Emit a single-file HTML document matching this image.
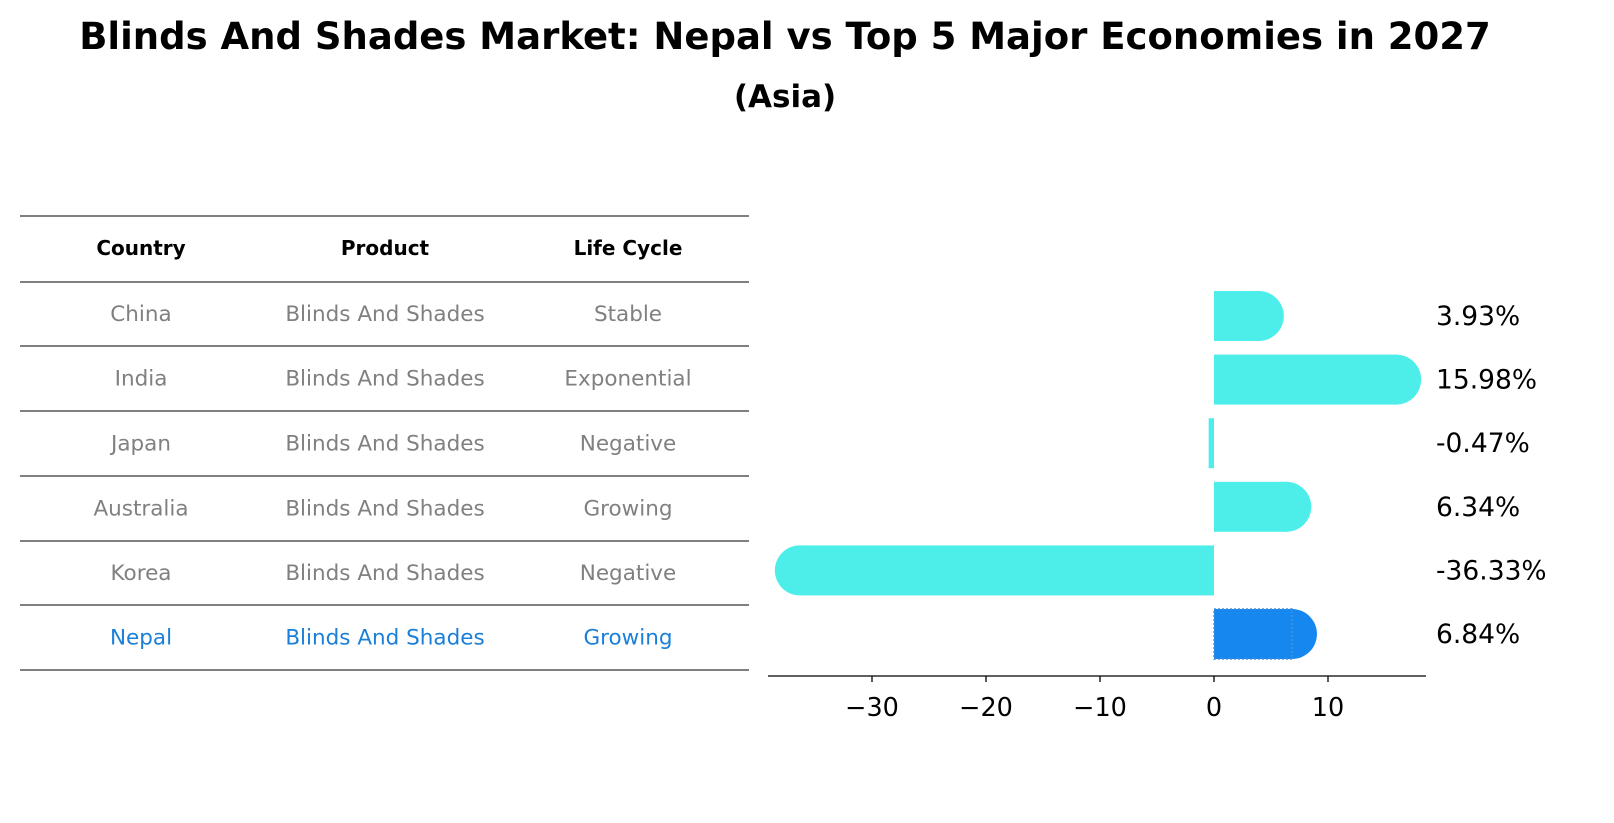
<!DOCTYPE html>
<html><head><meta charset="utf-8">
<style>
body{margin:0;background:#fff;width:1614px;height:823px;overflow:hidden;font-family:"Liberation Sans","DejaVu Sans",sans-serif;}
svg{display:block}
</style></head>
<body>
<svg width="1614" height="823" id="c">
<text x="785" y="49" text-anchor="middle" font-size="37" font-weight="bold" font-family="DejaVu Sans, sans-serif">Blinds And Shades Market: Nepal vs Top 5 Major Economies in 2027</text>
<text x="785" y="107" text-anchor="middle" font-size="31" font-weight="bold" font-family="DejaVu Sans, sans-serif">(Asia)</text>
<g id="tbl"></g>
<g id="bars"></g>
</svg>
<script>
const countries=["China","India","Japan","Australia","Korea","Nepal"];
const products=["Blinds And Shades","Blinds And Shades","Blinds And Shades","Blinds And Shades","Blinds And Shades","Blinds And Shades"];
const lifecycles=["Stable","Exponential","Negative","Growing","Negative","Growing"];
const values=[3.93,15.98,-0.47,6.34,-36.33,6.84];
const ticks=[-30,-20,-10,0,10];
const NS="http://www.w3.org/2000/svg";
function mk(tag,attrs,parent){const e=document.createElementNS(NS,tag);for(const k in attrs)e.setAttribute(k,attrs[k]);parent.appendChild(e);return e;}
const tbl=document.getElementById('tbl');
const lineYs=[216,282,346,411,476,541,605,670];
lineYs.forEach(y=>{const l=mk('line',{x1:20,x2:749,y1:y,y2:y,stroke:'#000','stroke-width':1},tbl);

});
const colX=[141,385,628];
const hdr=["Country","Product","Life Cycle"];
hdr.forEach((h,i)=>{const t=mk('text',{x:colX[i],y:255,'text-anchor':'middle','font-size':20,'font-weight':'bold','font-family':'DejaVu Sans, sans-serif'},tbl);t.textContent=h;

});
countries.forEach((c,r)=>{const y=(lineYs[r+1]+lineYs[r+2])/2+7;const col=c==="Nepal"?"#1a7fd8":"#808080";
[c,products[r],lifecycles[r]].forEach((v,i)=>{const t=mk('text',{x:colX[i],y:y,'text-anchor':'middle','font-size':21.5,fill:col,'font-family':'DejaVu Sans, sans-serif'},tbl);t.textContent=v;

});});
const g=document.getElementById('bars');
const x0=1214,ppu=11.4;
const xs=v=>x0+v*ppu;
const rowY=i=>316+i*63.6;
const h=50,r=25;
values.forEach((v,i)=>{
 const col=countries[i]==="Nepal"?"#1787f0":"#4deeea";
 const yc=rowY(i);const xe=xs(v);
 const left=Math.min(x0,xe),w=Math.abs(xe-x0);
 const rect=mk('rect',{x:left,y:yc-h/2,width:Math.max(w,1),height:h,fill:col},g);
 
 
 if(Math.abs(v)>1){const cap=mk('circle',{cx:xe,cy:yc,r:r,fill:col},g);
 
 }
 if(countries[i]==="Nepal"){const b=mk('rect',{x:left,y:yc-h/2,width:w,height:h,fill:'none',stroke:'#4a90d9','stroke-width':1.5,'stroke-dasharray':'2,2'},g);
 
 }
 const t=mk('text',{x:1436,y:yc+9,'font-size':26.5,'font-family':'DejaVu Sans, sans-serif'},g);
 t.textContent=v.toFixed(2)+'%';
 
 
});
const ax=mk('line',{x1:768,x2:1426,y1:676,y2:676,stroke:'#000','stroke-width':1.3},g);


ticks.forEach(tv=>{const x=xs(tv);
 const tk=mk('line',{x1:x,x2:x,y1:676,y2:682,stroke:'#000','stroke-width':1.3},g);
 
 
 const t=mk('text',{x:x,y:716,'text-anchor':'middle','font-size':25.5,'font-family':'DejaVu Sans, sans-serif'},g);
 t.textContent=tv<0?'\u2212'+Math.abs(tv):String(tv);
 
 });
</script>
</body></html>
